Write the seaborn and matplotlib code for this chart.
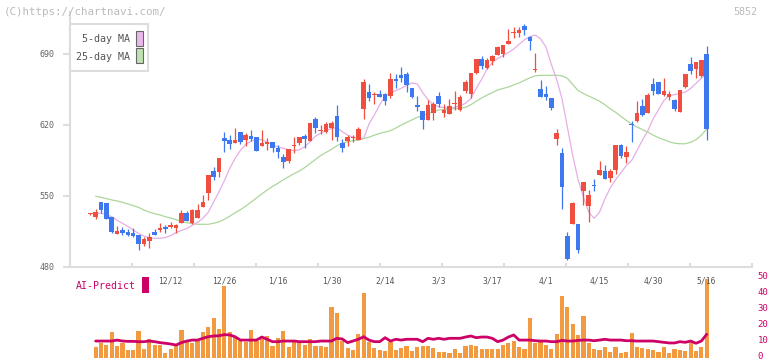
import numpy as np
import pandas as pd
import matplotlib
matplotlib.use("Agg")
import matplotlib.pyplot as plt
import matplotlib.transforms as mtransforms
from matplotlib.patches import Rectangle
import seaborn as sns

# daily candles (first one has no volume / MA value drawn)
opens = [532.0, 529.6, 544.1, 543.4, 529.3, 512.9, 516.5, 514.8, 513.5, 511.5,
         503.0, 505.9, 514.5, 516.5, 519.4, 519.7, 518.8, 523.7, 533.2, 523.4,
         528.0, 539.2, 553.3, 574.6, 574.0, 607.2, 605.2, 602.6, 613.1, 605.2,
         609.1, 608.2, 599.6, 601.6, 603.3, 597.6, 588.8, 584.2, 599.5, 602.6,
         609.1, 604.5, 625.7, 613.8, 613.4, 616.6, 628.9, 602.3, 604.5, 607.2,
         605.2, 636.1, 652.5, 650.0, 650.3, 650.3, 648.6, 665.3, 669.3, 670.3,
         656.5, 639.4, 633.8, 625.2, 632.1, 648.6, 632.1, 631.1, 640.7, 634.8,
         653.5, 650.6, 671.3, 685.1, 676.2, 683.1, 689.0, 690.0, 699.9, 710.3,
         710.7, 717.6, 706.8, 674.3, 655.5, 650.6, 646.6, 606.5, 592.4, 510.6,
         522.4, 522.4, 555.3, 540.1, 560.6, 570.7, 574.6, 568.0, 575.6, 600.3,
         588.4, 620.4, 623.9, 638.7, 631.8, 660.4, 662.4, 649.6, 647.6, 644.6,
         632.8, 657.5, 680.2, 675.2, 668.3, 690.0]
highs = [533.0, 536.9, 544.1, 543.4, 529.3, 520.1, 519.1, 517.5, 518.4, 512.0,
         509.3, 513.2, 517.5, 523.4, 521.4, 524.7, 522.4, 536.2, 535.2, 537.2,
         542.1, 551.0, 570.7, 579.0, 587.5, 613.4, 610.1, 617.1, 613.1, 612.1,
         615.1, 608.2, 615.1, 607.2, 603.3, 600.6, 591.8, 596.6, 608.2, 608.2,
         611.1, 621.8, 627.7, 620.0, 623.0, 624.2, 639.7, 606.2, 610.5, 610.5,
         618.0, 665.3, 660.4, 652.5, 654.5, 651.2, 671.3, 670.3, 677.5, 672.3,
         656.5, 648.6, 634.0, 644.6, 642.7, 652.5, 640.7, 645.6, 653.5, 649.6,
         664.4, 671.3, 685.1, 688.0, 686.1, 689.0, 697.9, 698.9, 714.6, 716.6,
         716.6, 719.6, 707.8, 691.0, 664.4, 658.4, 646.6, 616.1, 597.3, 514.5,
         544.1, 522.4, 563.8, 555.9, 566.7, 584.5, 580.6, 576.6, 600.3, 601.3,
         599.3, 624.0, 643.7, 645.6, 651.5, 666.3, 662.4, 666.3, 653.5, 645.6,
         654.5, 670.3, 687.0, 682.1, 684.1, 697.9]
lows = [531.5, 527.3, 533.5, 527.0, 513.5, 512.9, 511.6, 511.0, 510.0, 497.1,
        501.0, 499.1, 511.8, 514.8, 513.8, 518.1, 513.8, 523.7, 525.0, 522.4,
        528.0, 539.0, 546.1, 565.8, 569.0, 593.7, 596.6, 602.6, 601.6, 599.6,
        604.5, 594.7, 599.6, 595.7, 593.7, 587.8, 578.0, 583.0, 592.7, 600.6,
        597.6, 604.0, 612.4, 611.4, 612.0, 605.5, 604.0, 593.7, 599.6, 603.6,
        605.0, 626.2, 643.7, 641.0, 648.0, 640.0, 647.0, 656.8, 662.7, 652.9,
        646.6, 634.1, 616.4, 625.0, 625.2, 638.0, 628.2, 631.0, 634.8, 634.0,
        651.9, 646.6, 670.3, 675.2, 675.2, 679.2, 689.0, 687.0, 699.9, 705.8,
        706.8, 708.7, 694.0, 672.5, 648.0, 644.6, 635.0, 600.6, 537.2, 486.9,
        522.4, 493.8, 541.5, 524.4, 555.3, 570.7, 567.0, 564.0, 572.0, 587.5,
        582.5, 603.2, 623.0, 628.9, 631.8, 649.6, 650.6, 648.6, 644.6, 633.8,
        632.8, 656.5, 670.3, 666.3, 667.3, 605.2]
closes = [532.6, 533.9, 536.2, 527.6, 514.8, 515.8, 513.9, 511.5, 510.9, 503.0,
          507.9, 509.3, 511.8, 518.4, 517.5, 521.4, 521.7, 533.2, 525.6, 535.9,
          535.9, 544.1, 570.7, 569.0, 587.5, 604.5, 601.6, 605.2, 603.6, 610.1,
          606.5, 594.7, 602.3, 603.3, 597.6, 593.7, 583.9, 596.6, 600.3, 608.2,
          606.5, 621.8, 616.8, 614.4, 621.0, 622.3, 608.5, 597.6, 608.5, 607.8,
          616.1, 662.4, 646.6, 650.6, 648.0, 644.0, 665.3, 663.7, 666.6, 659.4,
          647.6, 638.0, 624.6, 639.7, 640.7, 641.0, 634.8, 638.7, 641.3, 647.3,
          662.4, 671.3, 685.1, 678.2, 684.1, 688.0, 696.9, 698.9, 702.8, 711.0,
          713.7, 713.7, 702.8, 674.8, 648.0, 648.0, 637.0, 612.1, 558.9, 487.9,
          543.1, 496.8, 563.8, 551.0, 559.8, 575.6, 567.0, 574.6, 600.3, 589.4,
          593.4, 619.6, 631.8, 629.8, 649.6, 653.5, 650.6, 653.5, 650.6, 635.8,
          654.5, 670.3, 673.2, 682.1, 684.1, 616.1]

# moving averages, from day 1 on
ma5 = [533.0, 533.0, 531.5, 529.5, 526.0, 523.0, 520.0, 516.5, 513.0, 510.5,
       509.0, 508.3, 508.3, 509.0, 511.0, 514.0, 516.0, 518.0, 521.0, 524.0,
       528.0, 534.0, 544.0, 554.0, 565.0, 577.0, 587.0, 595.0, 601.0, 604.0,
       606.0, 605.5, 603.0, 600.5, 598.5, 597.0, 595.5, 594.7, 595.5, 598.6,
       603.5, 609.0, 612.0, 614.5, 616.5, 617.4, 613.5, 610.0, 607.8, 606.5,
       607.0, 621.0, 630.0, 640.0, 648.6, 651.9, 654.0, 656.2, 659.0, 661.5,
       660.5, 652.0, 645.0, 640.0, 638.0, 637.0, 636.5, 637.5, 639.0, 641.4,
       646.0, 656.0, 665.0, 675.0, 681.5, 685.5, 688.3, 691.5, 695.0, 699.5,
       704.0, 707.0, 708.7, 705.0, 697.0, 680.0, 665.0, 646.0, 618.0, 590.0,
       566.0, 549.0, 534.0, 528.0, 534.0, 547.0, 558.0, 566.0, 573.0, 580.0,
       585.0, 595.0, 605.0, 614.0, 626.0, 635.0, 644.0, 649.0, 650.0, 651.0,
       652.5, 656.0, 661.0, 666.0, 670.0]
ma25 = [549.7, 548.7, 547.4, 546.1, 545.1, 543.8, 542.1, 540.5, 538.8, 536.2,
        534.2, 532.6, 531.3, 529.6, 528.3, 526.7, 525.0, 523.7, 522.7, 522.1,
        522.1, 522.1, 523.1, 524.5, 527.0, 530.0, 533.5, 536.5, 540.0, 544.0,
        548.0, 552.0, 556.0, 559.5, 562.5, 566.0, 569.0, 572.0, 574.6, 578.0,
        582.0, 586.0, 590.0, 593.0, 596.0, 599.5, 602.0, 603.5, 604.5, 605.2,
        606.5, 608.0, 610.0, 611.8, 613.0, 614.4, 617.0, 620.0, 622.5, 625.0,
        627.5, 629.5, 631.0, 633.0, 634.8, 635.2, 635.8, 636.2, 636.5, 637.5,
        640.0, 643.5, 646.5, 649.5, 652.0, 654.5, 656.0, 657.5, 659.5, 661.5,
        664.0, 666.5, 668.5, 669.0, 669.0, 669.0, 669.0, 668.5, 666.0, 660.0,
        654.0, 651.0, 648.5, 646.0, 643.5, 640.0, 636.0, 632.5, 628.5, 624.5,
        621.0, 618.0, 615.5, 613.0, 610.0, 607.5, 605.5, 603.5, 602.0, 601.5,
        601.5, 603.0, 605.5, 610.0, 616.0]

volume = [7, 9.6, 8.1, 16.2, 7.5, 9.6, 5, 5, 16.9, 5.6,
          11.9, 8.1, 8.1, 3.1, 5.6, 8.1, 17.5, 10.2, 9.4, 10.6,
          16.2, 19.4, 25, 18.1, 45, 16.2, 13.1, 10.6, 10, 17.5,
          10.6, 11.9, 13.75, 7.5, 12.5, 16.9, 6.9, 10.6, 9.4, 8.1,
          11.9, 7.5, 7.5, 6.9, 31.9, 28.1, 10.6, 6.25, 5, 15,
          40.6, 10, 6.25, 5, 4.4, 10, 5, 6.5, 7.5, 4.4,
          6.9, 7.5, 7.5, 6.25, 3.75, 3.75, 3.1, 5.6, 3.1, 7.5,
          8.1, 7.5, 5.6, 5.6, 5.6, 5.6, 8.1, 9.4, 10.6, 6.9,
          5.6, 25, 9.4, 10.6, 8.1, 5.6, 15, 38.75, 31.9, 21.25,
          14.4, 26.25, 9.4, 5.6, 5, 6.9, 3.75, 6.9, 3.1, 3.75,
          15.6, 6.9, 6.25, 5.6, 5, 3.75, 6.9, 3.1, 5.6, 5,
          4.4, 10, 4.4, 6.9, 49.4]
ai_predict = [10.6, 10.6, 10.6, 10.6, 11.2, 10.6, 10.4, 10.4, 10.2, 10.2,
              10.6, 10.2, 9.6, 9.2, 8.75, 8.1, 9.6, 10.6, 11.2, 11.2,
              12.3, 13.3, 13.75, 13.9, 14.6, 14.4, 13.3, 11.2, 11.2, 11.2,
              11.2, 13.1, 11.7, 10.2, 10.2, 10.6, 10.6, 10.6, 10.2, 10.2,
              10.2, 10.2, 10.6, 10.6, 10.6, 12.3, 11.9, 9.6, 10.6, 11.7,
              13.3, 11.2, 10.2, 10.2, 12.7, 10.6, 11.7, 11.2, 11.7, 11.7,
              11.7, 10.2, 12.3, 11.7, 12.3, 11.7, 12.3, 12.3, 12.3, 13.1,
              13.75, 12.7, 13.1, 13.1, 12.3, 10.2, 11.2, 13.1, 14.4, 11.2,
              11.2, 11.2, 10.8, 10.6, 10.6, 10.2, 10.2, 11.0, 10.6, 10.6,
              11.0, 11.2, 11.2, 10.8, 11.2, 11.7, 11.2, 11.2, 11.2, 10.8,
              10.8, 10.6, 10.6, 10.6, 10.6, 10.2, 9.8, 9.4, 9.4, 10.2,
              9.8, 10.6, 9.2, 10.6, 14.8]

date_labels = ["12/12", "12/26", "1/16", "1/30", "2/14", "3/3",
               "3/17", "4/1", "4/15", "4/30", "5/16"]
date_label_days = [15, 25, 35, 45, 55, 65, 75, 85, 95, 105, 115]
price_ticks = [480, 550, 620, 690]
volume_ticks = [0, 10, 20, 30, 40, 50]

RED = "#f04e3e"
BLUE = "#3d78ee"
ORANGE = "#f29a40"
MAGENTA = "#cc0066"
PINK = "#e6aee6"
GREEN = "#acd69c"
AXIS = "#dddddd"

W, H = 772, 361
sns.set_theme(style="white")
plt.rcParams["font.family"] = ["DejaVu Sans Mono", "DejaVu Sans"]

fig = plt.figure(figsize=(W / 100, H / 100), dpi=100)


def box(x0, y0, x1, y1):
    # pixel box, top-left origin -> figure fraction rect
    return [x0 / W, 1 - y1 / H, (x1 - x0) / W, (y1 - y0) / H]


def pt(x, y):
    return x / W, 1 - y / H


ax = fig.add_axes(box(70, 12, 752, 267))
axv = fig.add_axes(box(70, 278, 752, 358), sharex=ax)

candles = pd.DataFrame({"open": opens, "high": highs, "low": lows, "close": closes})
candles["day"] = np.arange(len(candles))
colors = np.where(candles.close >= candles.open, RED, BLUE)
body_lo = np.minimum(candles.open, candles.close)
body_h = np.maximum(np.abs(candles.close - candles.open), 1.0)

ax.vlines(candles.day, candles.low, candles.high, colors=colors, linewidth=0.9, zorder=3)
ax.bar(candles.day, body_h, bottom=body_lo, width=0.86, color=colors, linewidth=0, zorder=4)

days = np.arange(1, len(candles))
sns.lineplot(x=days, y=ma25, ax=ax, color=GREEN, linewidth=0.9, zorder=2)
sns.lineplot(x=days, y=ma5, ax=ax, color=PINK, linewidth=0.9, zorder=2)

xlim = (-3.79, 123.45)
ax.set_xlim(*xlim)
ax.set_ylim(480, 731.4)
ax.set_xticks(np.linspace(xlim[0], xlim[1], 12))
ax.set_yticks(price_ticks)
ax.tick_params(axis="x", direction="in", length=3, width=1.5, color=AXIS,
               labelbottom=False, bottom=True)
ax.tick_params(axis="y", direction="out", length=5, width=1.5, color=AXIS,
               labelsize=6, labelcolor="#666666", pad=6, left=True)
for s in ["top", "right"]:
    ax.spines[s].set_visible(False)
for s in ["left", "bottom"]:
    ax.spines[s].set_color(AXIS)
    ax.spines[s].set_linewidth(1.5)
ax.set_xlabel("")
ax.set_ylabel("")

# volume panel
axv.bar(days, volume, width=0.78, color=ORANGE, linewidth=0, zorder=2)
sns.lineplot(x=days, y=ai_predict, ax=axv, color=MAGENTA, linewidth=2.0, zorder=3)
axv.set_ylim(0, 50)
axv.set_yticks(volume_ticks)
axv.yaxis.tick_right()
axv.tick_params(axis="y", length=0, labelsize=6.5, labelcolor=MAGENTA, pad=4,
                labelright=True, labelleft=False)
axv.tick_params(axis="x", length=0, labelbottom=False, bottom=False)
# nudge the right labels up a little so "0" stays inside the picture
lift = mtransforms.ScaledTranslation(0, 2.5 / 100, fig.dpi_scale_trans)
for lab in axv.get_yticklabels():
    lab.set_transform(lab.get_transform() + lift)
for s in axv.spines.values():
    s.set_visible(False)
axv.set_facecolor("none")
axv.set_xlabel("")
axv.set_ylabel("")

# date labels sit under the price panel
trans = mtransforms.blended_transform_factory(ax.transData, fig.transFigure)
for d, lab in zip(date_label_days, date_labels):
    fig.text(d, 1 - 281 / H, lab, transform=trans, ha="center", va="center",
             fontsize=5.8, color="#555555")

# legend box
fig.add_artist(Rectangle(pt(70, 71), 78 / W, 47 / H, transform=fig.transFigure,
                         facecolor="white", edgecolor=AXIS, linewidth=1.5, zorder=5))
fig.text(*pt(130, 39.5), "5-day MA", ha="right", va="center", fontsize=7.2,
         color="#555555", zorder=6)
fig.text(*pt(130, 56.5), "25-day MA", ha="right", va="center", fontsize=7.2,
         color="#555555", zorder=6)
fig.add_artist(Rectangle(pt(136, 46), 7 / W, 15 / H, transform=fig.transFigure,
                         facecolor="#ebb8eb", edgecolor="#666666", linewidth=0.8, zorder=6))
fig.add_artist(Rectangle(pt(136, 63), 7 / W, 15 / H, transform=fig.transFigure,
                         facecolor="#c0e2b2", edgecolor="#666666", linewidth=0.8, zorder=6))

# AI-Predict tag
fig.text(*pt(76, 286), "AI-Predict", ha="left", va="center", fontsize=7.1,
         color=MAGENTA, zorder=6)
fig.add_artist(Rectangle(pt(142, 293), 7 / W, 16 / H, transform=fig.transFigure,
                         facecolor=MAGENTA, edgecolor="none", zorder=6))

fig.text(*pt(4, 12), "(C)https://chartnavi.com/", ha="left", va="center",
         fontsize=7.8, color="#bbbbbb")
fig.text(*pt(757, 12), "5852", ha="right", va="center", fontsize=7.2, color="#bbbbbb")

fig.savefig("out.png", dpi=100)
